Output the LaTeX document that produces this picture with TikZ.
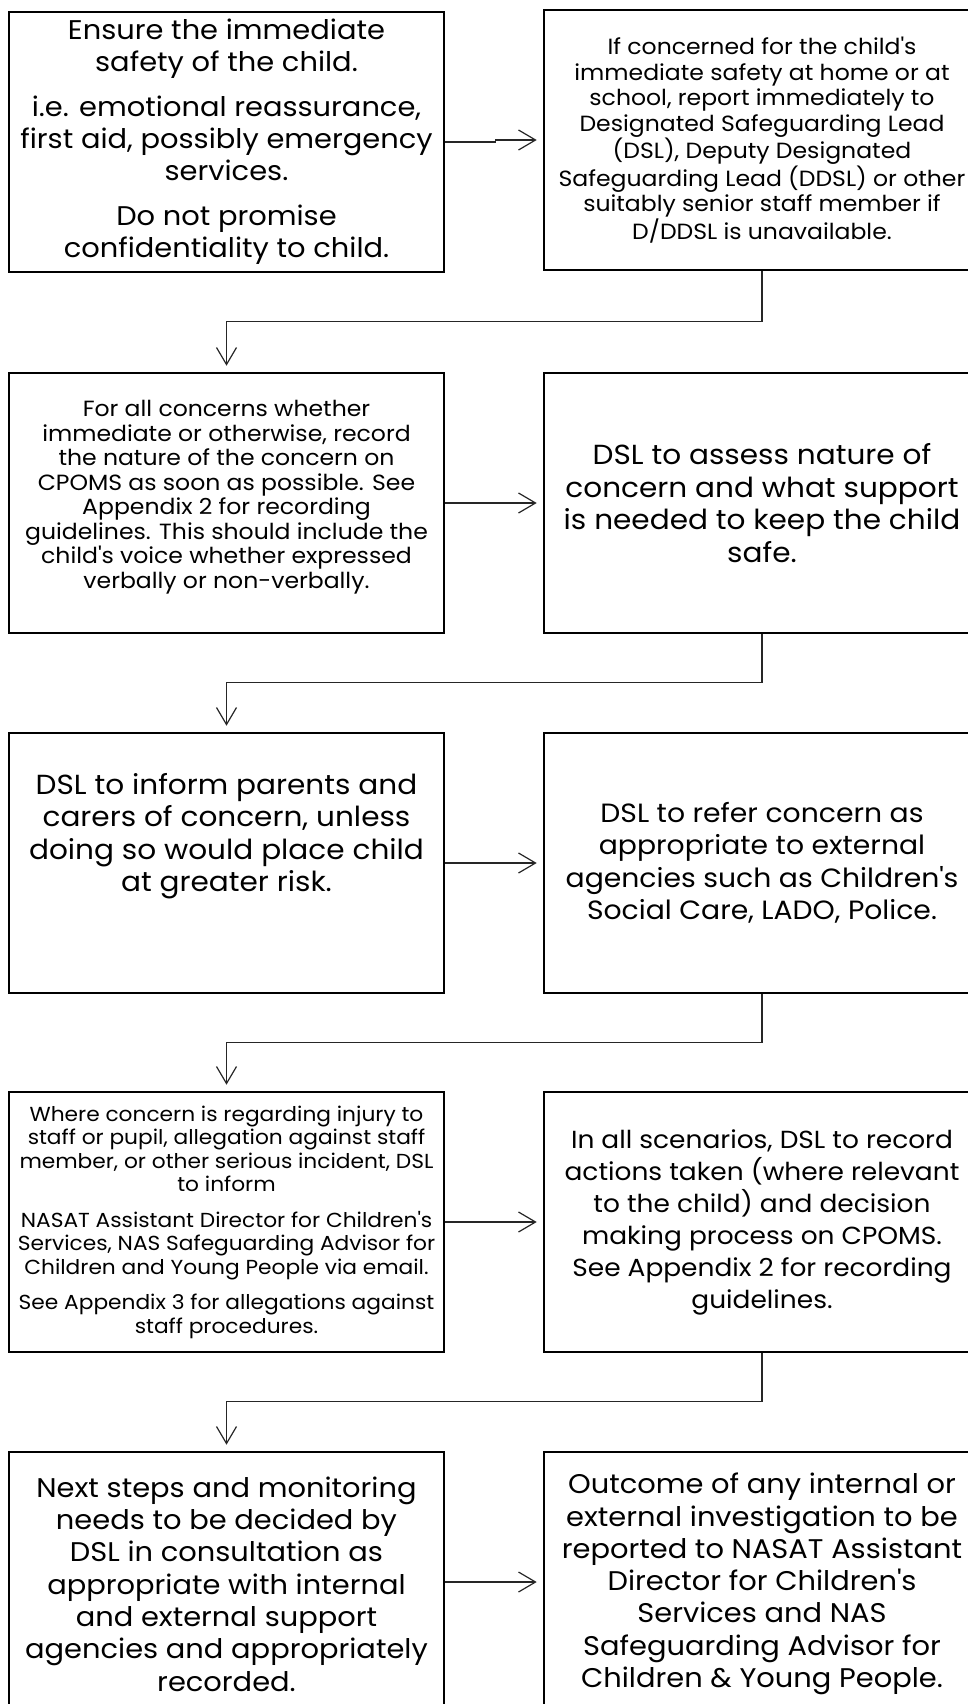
\documentclass[tikz,border=0pt]{standalone}
\usepackage{fontspec}
\setmainfont{Poppins}[FakeStretch=1.07]
\usetikzlibrary{arrows.meta,calc}
\newcommand\ap{\XeTeXglyph\XeTeXcharglyph"0027\relax}
\begin{document}
\begin{tikzpicture}[x=1pt,y=-1pt,
  flowbox/.style={draw=black, line width=2.6pt, rectangle, minimum width=435pt, minimum height=260pt, inner sep=0pt, align=center, text=black},
  plaintext/.style={inner sep=0pt, align=center, text=black},
  fsA/.style={font=\fontsize{27}{32}\selectfont},
  fsB/.style={font=\fontsize{22}{25.6}\selectfont},
  fsC/.style={font=\fontsize{22}{24.5}\selectfont},
  fsD/.style={font=\fontsize{27.6}{32.5}\selectfont},
  fsH/.style={font=\fontsize{26.4}{32.5}\selectfont},
  fsE/.style={font=\fontsize{20.3}{23.5}\selectfont},
  fsG/.style={font=\fontsize{24.7}{32}\selectfont},
  fsF/.style={font=\fontsize{27}{32.3}\selectfont},
  conn/.style={draw=black!85, line width=1.2pt, -{Straight Barb[length=17pt,width=20pt]}, shorten >=6pt}
]
\path[use as bounding box, clip] (0,0) rectangle (968,1704);
\fill[white] (0,0) rectangle (968,1704);

\node[flowbox, fsA] (b1) at (226.5,142) {Ensure the immediate\\ safety of the child.\\[13pt] i.e. emotional reassurance,\\ first aid, possibly emergency\\ services.\\[13pt] Do not promise\\ confidentiality to child.};
\node[flowbox, fsB, minimum width=436pt] (b2) at (762,140) {If concerned for the child\ap s\\ immediate safety at home or at\\ school, report immediately to\\ Designated Safeguarding Lead\\ (DSL), Deputy Designated\\ Safeguarding Lead (DDSL) or other\\ suitably senior staff member if\\ D/DDSL is unavailable.};

\node[flowbox] (b3) at (226.5,503) {};
\node[plaintext, fsC] (b3t) at ($(b3.center)+(0,-6)$) {For all concerns whether\\ immediate or otherwise, record\\ the nature of the concern on\\ CPOMS as soon as possible. See\\ Appendix 2 for recording\\ guidelines. This should include the\\ child\ap s voice whether expressed\\ verbally or non-verbally.};
\node[flowbox, fsD, minimum width=436pt] (b4) at (762,503) {DSL to assess nature of\\ concern and what support\\ is needed to keep the child\\ safe.};

\node[flowbox] (b5) at (226.5,863) {};
\node[plaintext, fsD] (b5t) at ($(b5.center)+(0,-27)$) {DSL to inform parents and\\ carers of concern, unless\\ doing so would place child\\ at greater risk.};
\node[flowbox, fsH, minimum width=436pt] (b6) at (762,863) {DSL to refer concern as\\ appropriate to external\\ agencies such as Children\ap s\\ Social Care, LADO, Police.};

\node[flowbox, fsE] (b7) at (226.5,1222) {Where concern is regarding injury to\\ staff or pupil, allegation against staff\\ member, or other serious incident, DSL\\ to inform\\[12pt] NASAT Assistant Director for Children\ap s\\ Services, NAS Safeguarding Advisor for\\ Children and Young People via email.\\[12pt] See Appendix 3 for allegations against\\ staff procedures.};
\node[flowbox, fsG, minimum width=436pt] (b8) at (762,1222) {In all scenarios, DSL to record\\ actions taken (where relevant\\ to the child) and decision\\ making process on CPOMS.\\ See Appendix 2 for recording\\ guidelines.};

\node[flowbox, minimum height=282pt] (b9) at (226.5,1593) {};
\node[plaintext, fsF] (b9t) at ($(b9.center)+(0,-9)$) {Next steps and monitoring\\ needs to be decided by\\ DSL in consultation as\\ appropriate with internal\\ and external support\\ agencies and appropriately\\ recorded.};
\node[flowbox, minimum width=436pt, minimum height=282pt] (b10) at (762,1593) {};
\node[plaintext, fsF] (b10t) at ($(b10.center)+(0,-9)$) {Outcome of any internal or\\ external investigation to be\\ reported to NASAT Assistant\\ Director for Children\ap s\\ Services and NAS\\ Safeguarding Advisor for\\ Children \& Young People.};

% horizontal arrows
\coordinate (r5) at (0,1582);
\draw[conn] (b1.east) -- ++(50,0) |- (b2.west);
\draw[conn] (b3.east) -- (b4.west);
\draw[conn] (b5.east) -- (b6.west);
\draw[conn] (b7.east) -- (b8.west);
\draw[conn] (b9.east |- r5) -- (b10.west |- r5);

% down connectors
\draw[conn] (b2.south) -- ++(0,50) -| (b3.north);
\draw[conn] (b4.south) -- ++(0,48) -| (b5.north);
\draw[conn] (b6.south) -- ++(0,48) -| (b7.north);
\draw[conn] (b8.south) -- ++(0,48) -| (b9.north);
\end{tikzpicture}
\end{document}
